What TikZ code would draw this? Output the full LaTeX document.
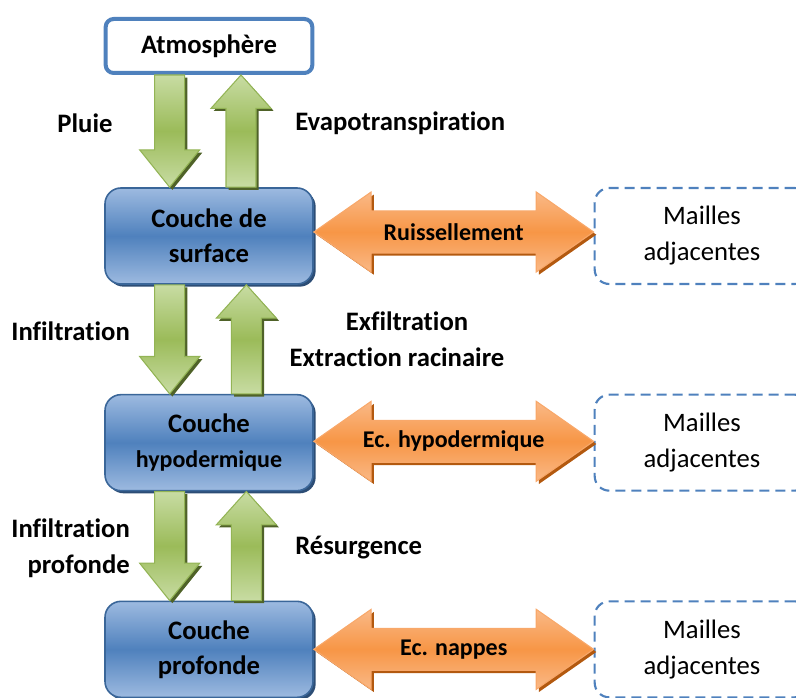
\documentclass[tikz,border=0pt]{standalone}
\usepackage{fontspec}
\setmainfont{Carlito}[Ligatures=NoCommon]
\usetikzlibrary{calc,shadows}

\definecolor{bleu}{HTML}{4F81BD}
\definecolor{bleuclair}{HTML}{9DBAE0}
\definecolor{bleufonce}{HTML}{3A6699}
\definecolor{bleuombre}{HTML}{2C4D75}
\definecolor{vert}{HTML}{9BBB59}
\definecolor{vertclair}{HTML}{C8DCA3}
\definecolor{vertbord}{HTML}{93B455}
\definecolor{vertombre}{HTML}{4F6228}
\definecolor{orangef}{HTML}{F79646}
\definecolor{orangeclair}{HTML}{FAB987}
\definecolor{orangebord}{HTML}{F8A86A}
\definecolor{orangeombre}{HTML}{B3590F}

\tikzset{
  fatdown/.style={to path={let \p1=(\tikztostart), \p2=(\tikztotarget) in
    (\x1-11.25pt,\y1) -- (\x1-11.25pt,\y2+28pt) -- (\x1-22.5pt,\y2+28pt) -- (\x1,\y2)
    -- (\x1+22.5pt,\y2+28pt) -- (\x1+11.25pt,\y2+28pt) -- (\x1+11.25pt,\y1) -- cycle}},
  fatup/.style={to path={let \p1=(\tikztostart), \p2=(\tikztotarget) in
    (\x1-11.25pt,\y1) -- (\x1-11.25pt,\y2-25pt) -- (\x1-22.5pt,\y2-25pt) -- (\x1,\y2)
    -- (\x1+22.5pt,\y2-25pt) -- (\x1+11.25pt,\y2-25pt) -- (\x1+11.25pt,\y1) -- cycle}},
  fatboth/.style={to path={let \p1=(\tikztostart), \p2=(\tikztotarget) in
    (\x1,\y1) -- (\x1+43pt,\y1+30pt) -- (\x1+43pt,\y1+15.75pt) -- (\x2-43pt,\y1+15.75pt)
    -- (\x2-43pt,\y1+30pt) -- (\x2,\y1) -- (\x2-43pt,\y1-30pt) -- (\x2-43pt,\y1-15.75pt)
    -- (\x1+43pt,\y1-15.75pt) -- (\x1+43pt,\y1-30pt) -- cycle}}
}

\begin{document}
\begin{tikzpicture}[x=0.75pt,y=-0.75pt,node distance=155pt,
    couche/.style={rectangle,rounded corners=12pt,draw=bleufonce,line width=1.2pt,
      top color=bleuclair,bottom color=bleuclair,middle color=bleu,
      minimum width=156pt,minimum height=72pt,align=center,
      font=\fontsize{20}{26.25}\selectfont\bfseries,
      drop shadow={shadow xshift=2pt,shadow yshift=-2pt,fill=bleuombre,opacity=1}},
    atmo/.style={rectangle,rounded corners=6pt,draw=bleu,line width=3pt,fill=white,
      minimum width=155pt,minimum height=40.5pt,font=\bfseries},
    maille/.style={rectangle,rounded corners=11pt,draw=bleu,line width=1.6pt,
      dash pattern=on 7.5pt off 4.5pt,minimum width=161pt,minimum height=72pt,align=center},
    flechev/.style={draw=vertbord,line width=0.8pt,
      top color=vertclair,bottom color=vertclair,middle color=vert,
      drop shadow={shadow xshift=2pt,shadow yshift=-2pt,fill=vertombre,opacity=1}},
    flecheo/.style={draw=orangebord,line width=0.8pt,
      top color=orangeclair,bottom color=orangeclair,middle color=orangef,
      drop shadow={shadow xshift=2pt,shadow yshift=-2pt,fill=orangeombre,opacity=1}},
    lbl/.style={inner sep=0pt,font=\bfseries},
    lblo/.style={inner sep=0pt,font=\fontsize{18}{22}\selectfont\bfseries}]
  \fontsize{20}{27}\selectfont
  \useasboundingbox (0,0) rectangle (796,698);
  \clip (0,0) rectangle (796,698);

  \node[atmo]   (atm)  at (209,46)                              {Atmosphère};
  \node[couche] (surf) [below of=atm, node distance=142.5pt]   {Couche de\\surface};
  \node[couche] (hypo) [below of=surf]                         {Couche\\{\fontsize{18}{22}\selectfont hypodermique}};
  \node[couche] (prof) [below of=hypo]                         {Couche\\profonde};

  \node[maille] (m1) [right of=surf, node distance=369.75pt]   {Mailles\\adjacentes};
  \node[maille] (m2) [right of=hypo, node distance=369.75pt]   {Mailles\\adjacentes};
  \node[maille] (m3) [right of=prof, node distance=369.75pt]   {Mailles\\adjacentes};

  \draw[flechev,fatdown] ([xshift=-29.5pt]atm.south)  to ([xshift=-29.5pt]surf.north);
  \draw[flechev,fatup]   ([xshift=24pt]surf.north)    to ([xshift=24pt]atm.south);
  \draw[flechev,fatdown] ([xshift=-29.5pt]surf.south) to ([xshift=-29.5pt]hypo.north);
  \draw[flechev,fatup]   ([xshift=28pt]hypo.north)    to ([xshift=28pt]surf.south);
  \draw[flechev,fatdown] ([xshift=-29.5pt]hypo.south) to ([xshift=-29.5pt]prof.north);
  \draw[flechev,fatup]   ([xshift=28pt]prof.north)    to ([xshift=28pt]hypo.south);

  \draw[flecheo,fatboth] ([yshift=3pt]surf.east) to ([yshift=3pt]m1.west);
  \draw[flecheo,fatboth] ([yshift=1pt]hypo.east) to ([yshift=1pt]m2.west);
  \draw[flecheo,fatboth] (prof.east) to (m3.west);

  \node[lblo] (ruis) at ($([yshift=3pt]surf.east)!.5!([yshift=3pt]m1.west)$) {Ruissellement};
  \node[lblo] (echy) at ($([yshift=1pt]hypo.east)!.5!([yshift=1pt]m2.west)$) {Ec. hypodermique};
  \node[lblo] (ecna) at ($(prof.east)!.5!(m3.west)$) {Ec. nappes};

  \node[lbl]                         (pluie) at (85,123)  {Pluie};
  \node[lbl,anchor=west]             (evap)  at (295,123) {Evapotranspiration};
  \node[lbl,anchor=east]             (inf)   at (130,331) {Infiltration};
  \node[lbl]                         (exf)   at (407,321) {Exfiltration};
  \node[lbl]                         (extr)  at (397,357) {Extraction racinaire};
  \node[lbl,anchor=east,align=right] (infp)  at (130,548) {Infiltration\\profonde};
  \node[lbl,anchor=west]             (res)   at (295,548) {Résurgence};

\end{tikzpicture}
\end{document}
